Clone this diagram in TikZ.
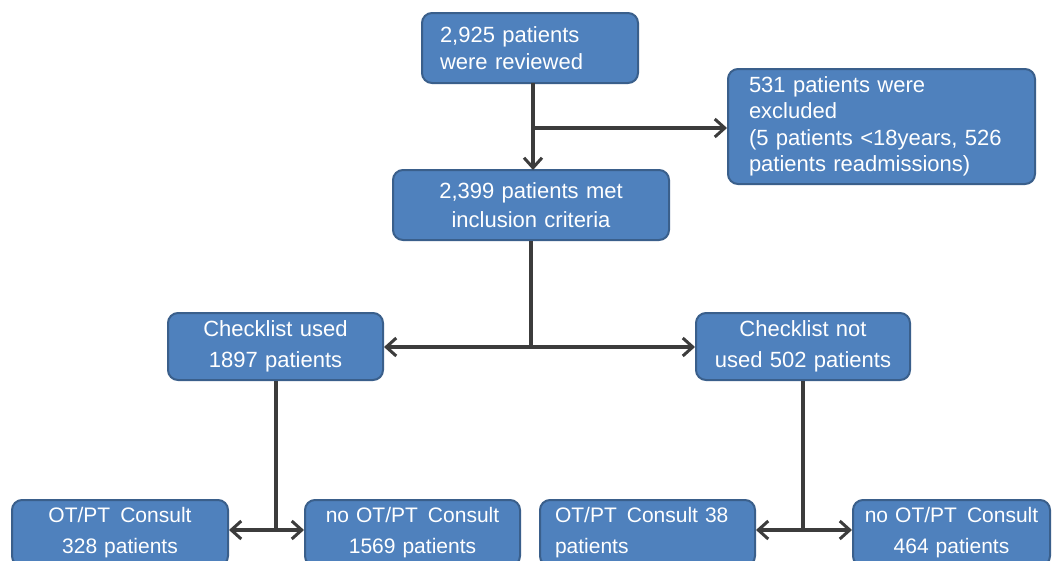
\documentclass[tikz,border=0pt]{standalone}
\usepackage{fontspec}
\setmainfont{Liberation Sans}
\usetikzlibrary{arrows.meta}
\definecolor{boxfill}{HTML}{4F81BD}
\definecolor{boxline}{HTML}{3A5F8B}
\definecolor{conn}{HTML}{3C3C3C}
\tikzset{
  fbox/.style={draw=boxline, line width=2pt, fill=boxfill, rounded corners=10pt,
    text=white, inner xsep=0pt, inner ysep=0pt, anchor=center},
  conline/.style={draw=conn, line width=3.2pt},
  arr/.style={conline, -{Straight Barb[length=10pt,width=18pt,line width=3pt]}},
  darr/.style={conline, {Straight Barb[length=10pt,width=18pt,line width=3pt]}-{Straight Barb[length=10pt,width=18pt,line width=3pt]}},
}
\begin{document}
\begin{tikzpicture}[x=1pt,y=-1pt]
\useasboundingbox (0,0) rectangle (1056,560);
\clip (0,0) rectangle (1056,560);
\fill[white] (0,0) rectangle (1056,560);
% boxes
\node[fbox, minimum width=216pt, minimum height=70pt] (top) at (530,48) {};
\node[text=white, text width=190pt, align=left, font=\fontsize{22}{27}\selectfont, anchor=center] (toptxt) at (535,48) {2,925 patients\\were reviewed};

\node[fbox, minimum width=276pt, minimum height=70pt] (incl) at (531,205) {};
\node[text=white, text width=260pt, align=center, font=\fontsize{22}{29}\selectfont] (incltxt) at (531,205) {2,399 patients met\\inclusion criteria};

\node[fbox, minimum width=307pt, minimum height=115pt] (excl) at (881.5,126.5) {};
\node[text=white, text width=280pt, align=left, font=\fontsize{22}{26.5}\selectfont] (excltxt) at (889,126.5) {531 patients were\\excluded\\(5 patients <18years, 526\\patients readmissions)};

\node[fbox, minimum width=215pt, minimum height=67pt] (used) at (275.5,346.5) {};
\node[text=white, text width=210pt, align=center, font=\fontsize{22}{31}\selectfont] (usedtxt) at (275.5,346.5) {Checklist used\\1897 patients};

\node[fbox, minimum width=214pt, minimum height=67pt] (notused) at (803,346.5) {};
\node[text=white, text width=210pt, align=center, font=\fontsize{22}{31}\selectfont] (notusedtxt) at (803,346.5) {Checklist not\\used 502 patients};

\node[fbox, minimum width=216pt, minimum height=66pt] (b1) at (120,533) {};
\node[text=white, text width=210pt, align=center, font=\fontsize{21}{31}\selectfont] (b1txt) at (120,533) {OT/PT\hspace{3pt} Consult\\328 patients};

\node[fbox, minimum width=215pt, minimum height=66pt] (b2) at (412.5,533) {};
\node[text=white, text width=210pt, align=center, font=\fontsize{21}{31}\selectfont] (b2txt) at (412.5,533) {no OT/PT\hspace{3pt} Consult\\1569 patients};

\node[fbox, minimum width=215pt, minimum height=66pt] (b3) at (647.5,533) {};
\node[text=white, text width=200pt, align=left, font=\fontsize{21}{31}\selectfont] (b3txt) at (655,533) {OT/PT\hspace{3pt} Consult 38\\patients};

\node[fbox, minimum width=197pt, minimum height=66pt] (b4) at (951.5,533) {};
\node[text=white, text width=200pt, align=center, font=\fontsize{21}{31}\selectfont] (b4txt) at (951.5,533) {no OT/PT\hspace{3pt} Consult\\464 patients};

% connectors
\coordinate (j1) at (533,128);
\coordinate (j2) at (531,347);
\coordinate (j3) at (276,530);
\coordinate (j4) at (803,530);
\draw[arr] (533,83) -- (533,170);
\draw[arr] (j1) -- (excl.west |- j1);
\draw[conline] (incl.south) -- (j2);
\draw[darr] (used.east |- j2) -- (notused.west |- j2);
\draw[conline] (used.south -| j3) -- (j3);
\draw[darr] (b1.east |- j3) -- (b2.west |- j3);
\draw[conline] (notused.south) -- (j4);
\draw[darr] (b3.east |- j4) -- (b4.west |- j4);
\end{tikzpicture}
\end{document}
